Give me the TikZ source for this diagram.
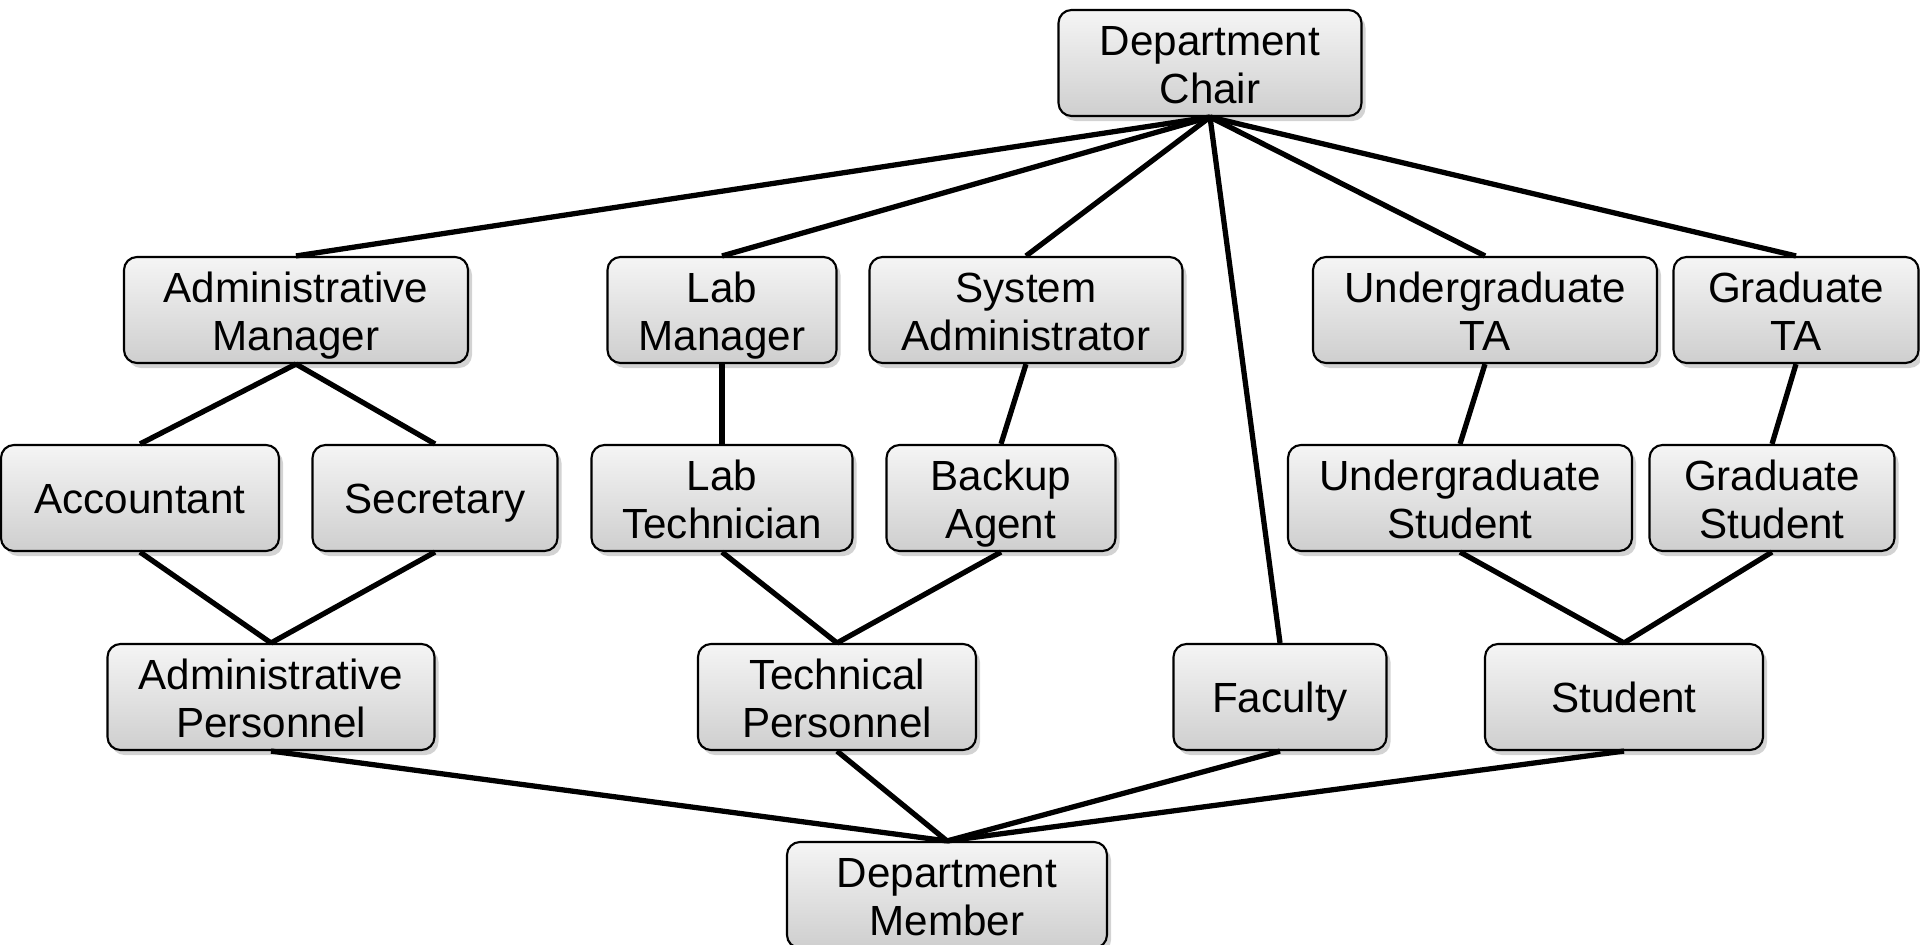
\documentclass[tikz,border=0pt]{standalone}
\usepackage{fontspec}
\setmainfont{Liberation Sans}
\usepackage{tikz}
\usetikzlibrary{shadows}
\usetikzlibrary{calc}

% two lines with fixed top and bottom, so the caps sit centred
\newcommand{\twoline}[2]{\rule{0pt}{12.4pt}#1\\#2\rule[-3pt]{0pt}{3pt}}

\begin{document}
\begin{tikzpicture}[line width=1.5pt,
        role/.style={rectangle,rounded corners=1.3mm,draw=black,line width=0.6pt,
          top color=gray!8,bottom color=gray!38,minimum height=10.6mm,
          inner xsep=1pt,inner ysep=0pt,
          align=center,font=\fontsize{12pt}{13.8pt}\selectfont,
          execute at begin node={\rule{0pt}{11.6pt}},
          execute at end node={\rule[-3pt]{0pt}{3pt}},
          drop shadow={shadow xshift=0.4mm,shadow yshift=-0.5mm,opacity=0.35}}]
        \useasboundingbox (0,0) rectangle (19.2,-9.44);
        % top
        \node[role,minimum width=30.3mm] (chair) at (12.10,-0.63) {\twoline{Department}{Chair}};
        % second row
        \node[role,minimum width=34.4mm] (amgr)   at (2.96,-3.10)  {\twoline{Administrative}{Manager}};
        \node[role,minimum width=22.9mm] (lmgr)   at (7.22,-3.10)  {\twoline{Lab}{Manager}};
        \node[role,minimum width=31.3mm] (sysadm) at (10.26,-3.10) {\twoline{System}{Administrator}};
        \node[role,minimum width=34.4mm] (ugta)   at (14.85,-3.10) {\twoline{Undergraduate}{TA}};
        \node[role,minimum width=24.5mm] (gta)    at (17.96,-3.10) {\twoline{Graduate}{TA}};
        % third row
        \node[role,minimum width=27.8mm] (acct)   at (1.40,-4.98)  {Accountant};
        \node[role,minimum width=24.5mm] (secr)   at (4.35,-4.98)  {Secretary};
        \node[role,minimum width=26.1mm] (ltech)  at (7.22,-4.98)  {\twoline{Lab}{Technician}};
        \node[role,minimum width=22.9mm] (backup) at (10.01,-4.98) {\twoline{Backup}{Agent}};
        \node[role,minimum width=34.4mm] (ugstud) at (14.60,-4.98) {\twoline{Undergraduate}{Student}};
        \node[role,minimum width=24.5mm] (gstud)  at (17.72,-4.98) {\twoline{Graduate}{Student}};
        % fourth row
        \node[role,minimum width=32.7mm] (apers)  at (2.71,-6.97)  {\twoline{Administrative}{Personnel}};
        \node[role,minimum width=27.8mm] (tpers)  at (8.37,-6.97)  {\twoline{Technical}{Personnel}};
        \node[role,minimum width=21.3mm] (fac)    at (12.80,-6.97) {Faculty};
        \node[role,minimum width=27.8mm] (stud)   at (16.24,-6.97) {Student};
        % bottom
        \node[role,minimum width=32.0mm] (member) at (9.47,-8.95)  {\twoline{Department}{Member}};
        \path
          (chair.south) edge (amgr.north)
          (chair.south) edge (lmgr.north)
          (chair.south) edge (sysadm.north)
          (chair.south) edge (fac.north)
          (chair.south) edge (ugta.north)
          (chair.south) edge (gta.north)
          (amgr.south) edge (acct.north)
          (amgr.south) edge (secr.north)
          (lmgr.south) edge (ltech.north)
          (sysadm.south) edge (backup.north)
          (ugta.south) edge (ugstud.north)
          (gta.south) edge (gstud.north)
          (acct.south) edge (apers.north)
          (secr.south) edge (apers.north)
          (ltech.south) edge (tpers.north)
          (backup.south) edge (tpers.north)
          (ugstud.south) edge (stud.north)
          (gstud.south) edge (stud.north)
          (apers.south) edge (member.north)
          (tpers.south) edge (member.north)
          (fac.south) edge (member.north)
          (stud.south) edge (member.north)
          ;
      \end{tikzpicture}
\end{document}
